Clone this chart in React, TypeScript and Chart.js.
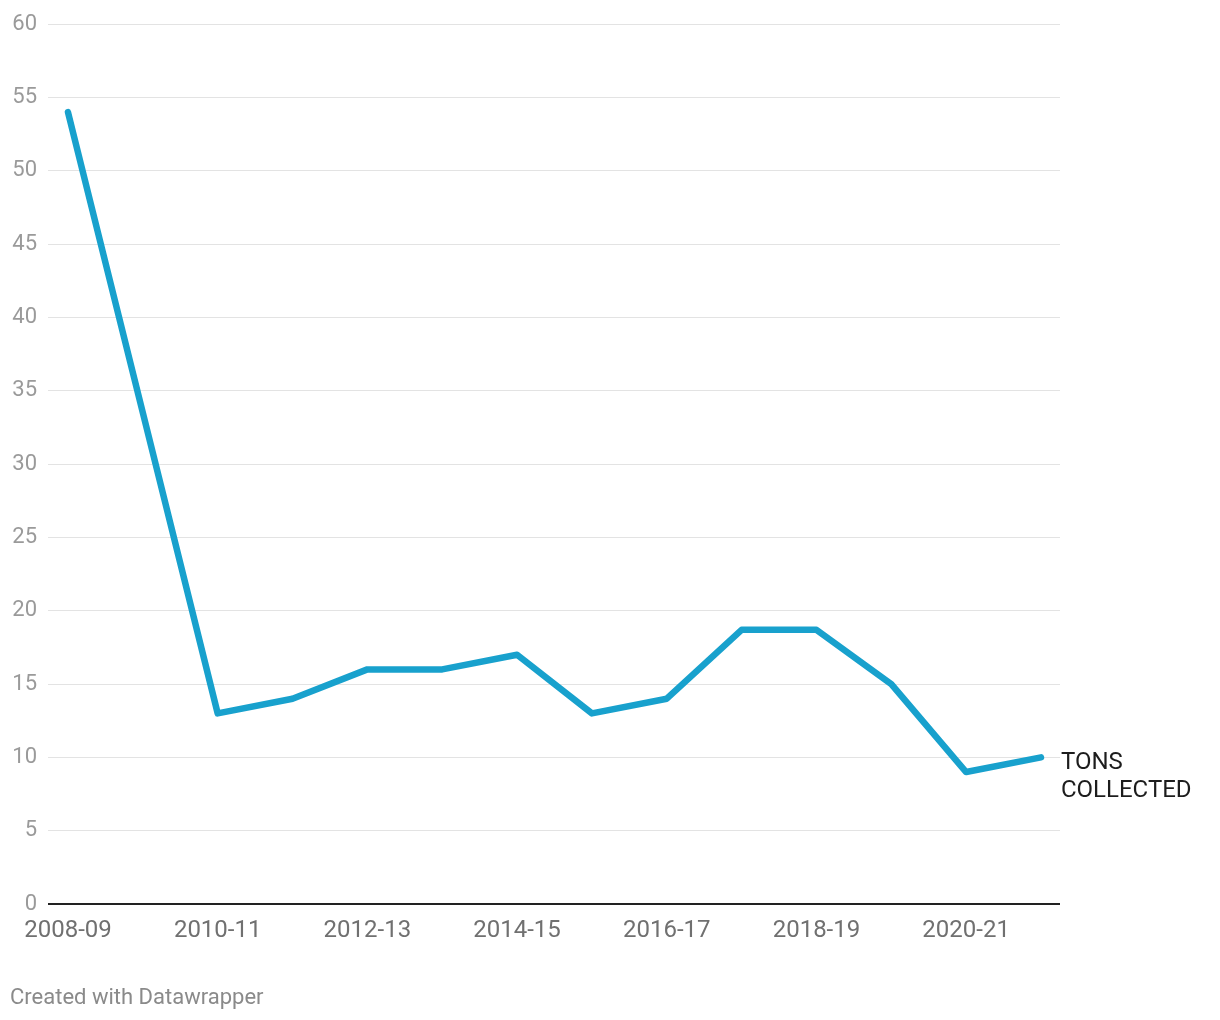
import React, { useEffect, useRef } from "react";
import { Chart, registerables } from "chart.js";

Chart.register(...registerables);

const categories = [
  "2008-09", "2009-10", "2010-11", "2011-12", "2012-13", "2013-14", "2014-15",
  "2015-16", "2016-17", "2017-18", "2018-19", "2019-20", "2020-21", "2021-22",
];
const tonsCollected = [54, 33.5, 13, 14, 16, 16, 17, 13, 14, 18.7, 18.7, 15, 9, 10];
const xTickIndices = [0, 2, 4, 6, 8, 10, 12];
const yTicks = [0, 5, 10, 15, 20, 25, 30, 35, 40, 45, 50, 55, 60];
const seriesLabel = ["TONS", "COLLECTED"];
const footerText = "Created with Datawrapper";

const FONT = "Roboto, 'Noto Sans', sans-serif";

export default function App() {
  const ref = useRef<HTMLCanvasElement | null>(null);

  useEffect(() => {
    if (!ref.current) return;
    const labelPlugin = {
      id: "endLabel",
      afterDatasetsDraw(chart: any) {
        const { ctx, scales } = chart;
        const last = tonsCollected.length - 1;
        const x = scales.x.getPixelForValue(last) + 20;
        const y = scales.y.getPixelForValue(tonsCollected[last]) + 6;
        ctx.save();
        ctx.font = `24px ${FONT}`;
        ctx.fillStyle = "#1d1d1d";
        ctx.textAlign = "left";
        ctx.textBaseline = "middle";
        seriesLabel.forEach((t, i) => ctx.fillText(t, x, y + i * 28));
        ctx.restore();
      },
    };
    const chart = new Chart(ref.current, {
      type: "line",
      data: {
        datasets: [
          {
            data: tonsCollected.map((v, i) => ({ x: i, y: v })),
            borderColor: "#18a1cd",
            borderWidth: 6.5,
            pointRadius: 0,
            borderCapStyle: "round",
            borderJoinStyle: "round",
            tension: 0,
          },
        ],
      },
      options: {
        animation: false,
        responsive: false,
        maintainAspectRatio: false,
        layout: { padding: { top: 23, right: 160, left: 0, bottom: 76 } },
        plugins: { legend: { display: false }, tooltip: { enabled: false } },
        scales: {
          x: {
            type: "linear",
            min: -0.267,
            max: 13.254,
            afterBuildTicks: (scale: any) => {
              scale.ticks = xTickIndices.map((v) => ({ value: v }));
            },
            afterFit: (scale: any) => {
              scale.height = 40;
            },
            grid: { display: false, drawTicks: false },
            border: { display: false },
            ticks: {
              autoSkip: false,
              maxRotation: 0,
              padding: 13,
              color: "#707070",
              font: { family: FONT, size: 24 },
              callback: (v: any) => categories[v as number] ?? "",
            },
          },
          y: {
            min: 0,
            max: 60,
            afterBuildTicks: (scale: any) => {
              scale.ticks = yTicks.map((v) => ({ value: v }));
            },
            afterFit: (scale: any) => {
              scale.width = 48;
            },
            grid: {
              drawTicks: false,
              color: (c: any) => (c.tick && c.tick.value === 0 ? "#222222" : "#e3e3e3"),
              lineWidth: (c: any) => (c.tick && c.tick.value === 0 ? 2 : 1),
            },
            border: { display: false },
            ticks: {
              padding: 11,
              color: "#9a9a9a",
              font: { family: FONT, size: 22 },
            },
          },
        },
      },
      plugins: [labelPlugin],
    } as any);
    return () => chart.destroy();
  }, []);

  return (
    <div style={{ position: "absolute", left: 0, top: 0, width: 1220, height: 1020, background: "#fff" }}>
      <canvas ref={ref} width={1220} height={1020} style={{ display: "block" }} />
      <div
        style={{
          position: "absolute",
          left: 10,
          top: 983,
          fontFamily: FONT,
          fontSize: 22,
          color: "#8a8a8a",
          lineHeight: "28px",
        }}
      >
        {footerText}
      </div>
    </div>
  );
}
